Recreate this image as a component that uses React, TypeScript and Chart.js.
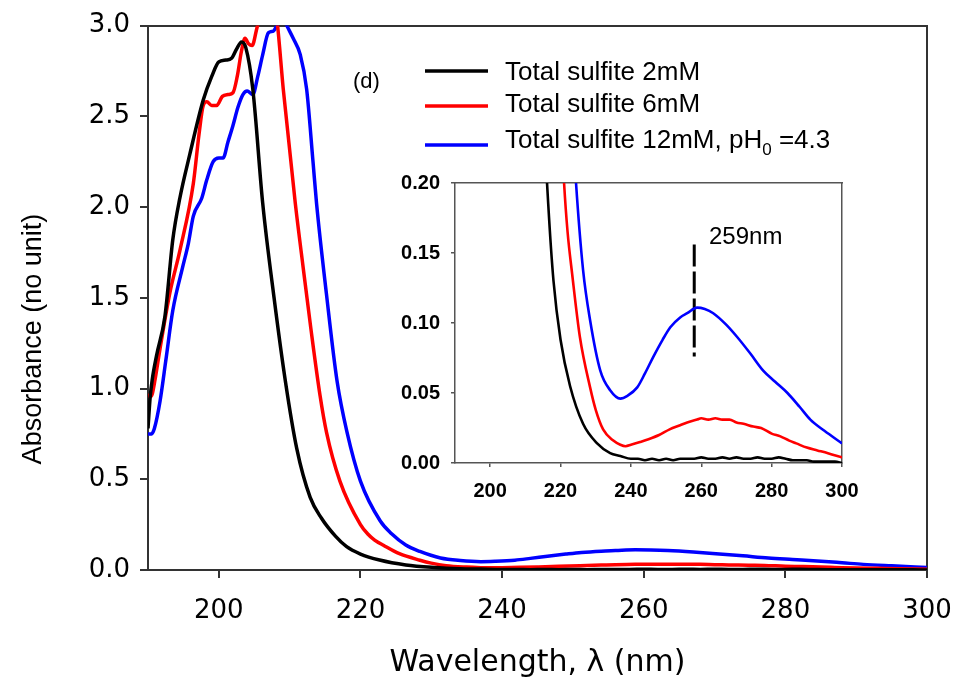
import React, { useEffect, useRef } from 'react';
import { Chart, registerables } from 'chart.js';

Chart.register(...registerables);

// ---------- data ----------
const blackWl = [190, 190.3, 190.6, 191.2, 192.4, 193.5, 194.5, 195.9, 197.8, 199, 200, 201, 201.8, 202.5, 203.2, 203.8, 204.8, 206.2, 207.8, 209.4, 211, 212.9, 214.5, 216.5, 218, 220, 222.7, 226.4, 230.4, 234.1, 237, 240, 242, 244, 246, 248, 250, 252, 254, 256, 258, 260, 262, 264, 266, 268, 270, 272, 274, 276, 278, 280, 282, 284, 286, 288, 290, 292, 294, 296, 298, 300];
const blackAbs = [0.78, 0.95, 1.05, 1.18, 1.40, 1.82, 2.05, 2.29, 2.59, 2.72, 2.80, 2.81, 2.82, 2.87, 2.91, 2.88, 2.65, 2.02, 1.50, 1.04, 0.67, 0.40, 0.285, 0.185, 0.13, 0.088, 0.055, 0.028, 0.014, 0.007, 0.005, 0.003, 0.003, 0.002, 0.003, 0.002, 0.003, 0.002, 0.003, 0.003, 0.003, 0.004, 0.003, 0.003, 0.004, 0.003, 0.004, 0.003, 0.003, 0.004, 0.003, 0.003, 0.004, 0.003, 0.002, 0.002, 0.002, 0.001, 0.001, 0.001, 0.001, 0.0];

const redWl = [190, 190.3, 190.6, 191, 191.7, 193.1, 194.5, 196.4, 197.2, 197.8, 198.3, 199, 199.7, 200.5, 201.3, 202, 202.6, 203.2, 203.7, 204.2, 204.7, 205.4, 206.2, 207, 207.8, 208.3, 209.1, 210.8, 211.9, 213, 214.3, 215.2, 217.1, 220, 221, 222, 223.3, 225.5, 228.4, 230, 232.1, 235, 237, 238.5, 240, 242.6, 245, 248, 251, 254, 256, 258.8, 260, 262, 264, 266, 268, 270, 272, 274.8, 277, 280, 282.5, 285, 287, 290, 293, 296, 300];
const redAbs = [0.97, 0.955, 0.97, 1.05, 1.22, 1.53, 1.76, 2.13, 2.40, 2.56, 2.58, 2.56, 2.56, 2.61, 2.62, 2.63, 2.72, 2.86, 2.93, 2.90, 2.89, 2.99, 3.1, 3.2, 3.15, 3.0, 2.65, 2.02, 1.67, 1.33, 0.96, 0.76, 0.49, 0.25, 0.2, 0.165, 0.135, 0.09, 0.054, 0.038, 0.024, 0.016, 0.013, 0.012, 0.013, 0.015, 0.017, 0.020, 0.024, 0.027, 0.029, 0.031, 0.032, 0.031, 0.032, 0.031, 0.031, 0.029, 0.028, 0.026, 0.025, 0.021, 0.019, 0.016, 0.014, 0.011, 0.009, 0.007, 0.004];

const blueWl = [190, 190.5, 190.9, 191.7, 192.5, 193.5, 194.9, 195.7, 196.4, 197.6, 198.3, 199.2, 200, 200.6, 201.3, 202, 202.7, 203.4, 204, 204.8, 205.5, 206.2, 207, 207.7, 208.2, 209, 209.6, 210.5, 211.5, 212.4, 213.3, 213.8, 215.2, 216.7, 218.1, 220, 222.8, 224.4, 226.4, 228.4, 231.3, 234.1, 237, 239, 241.8, 244, 246.4, 249, 251.2, 254, 256, 258.8, 261, 263.4, 267, 270.2, 274, 277.6, 281, 284.5, 288, 291, 295, 300];
const blueAbs = [0.75, 0.75, 0.78, 0.93, 1.15, 1.43, 1.67, 1.80, 1.95, 2.05, 2.15, 2.25, 2.27, 2.27, 2.36, 2.45, 2.55, 2.62, 2.64, 2.62, 2.72, 2.84, 2.96, 2.97, 3.0, 3.05, 3.0, 2.93, 2.84, 2.65, 2.25, 2.02, 1.52, 1.04, 0.76, 0.49, 0.27, 0.2, 0.138, 0.102, 0.066, 0.052, 0.046, 0.048, 0.054, 0.064, 0.076, 0.088, 0.097, 0.104, 0.107, 0.111, 0.110, 0.107, 0.099, 0.09, 0.078, 0.066, 0.058, 0.05, 0.04, 0.031, 0.023, 0.014];

const seriesLabels = ['Total sulfite 2mM', 'Total sulfite 6mM', 'Total sulfite 12mM, pH_0 =4.3'];
const seriesColors = ['#000000', '#ff0000', '#0000ff'];

const xTicks = [200, 220, 240, 260, 280, 300];
const yTicksMain = [0, 0.5, 1, 1.5, 2, 2.5, 3];
const yTicksInset = [0, 0.05, 0.1, 0.15, 0.2];

const peakWl = [258, 258];
const peakAbs = [0.156, 0.076];
const peakLabel = '259nm';
const panelLabel = '(d)';
const xTitle = 'Wavelength, \u03bb (nm)';
const yTitle = 'Absorbance (no unit)';

// ---------- helpers ----------
const SANS = "'Liberation Sans', Arial, Helvetica, sans-serif";
const WIDE = "'DejaVu Sans', Verdana, sans-serif";
const toXY = (xs: number[], ys: number[]) => xs.map((x, i) => ({ x, y: ys[i] }));
const seriesData = [toXY(blackWl, blackAbs), toXY(redWl, redAbs), toXY(blueWl, blueAbs)];

function drawRich(ctx: CanvasRenderingContext2D, text: string, x: number, y: number, size: number) {
  const parts = text.split(/_(\w)/);
  let cx = x;
  parts.forEach((p, i) => {
    const sub = i % 2 === 1;
    ctx.font = `${sub ? Math.round(size * 0.65) : size}px ${SANS}`;
    ctx.fillText(p, cx, sub ? y + size * 0.28 : y);
    cx += ctx.measureText(p).width;
  });
}

const legendPlugin = {
  id: 'legendPanel',
  afterDraw(chart: any) {
    const ctx: CanvasRenderingContext2D = chart.ctx;
    ctx.save();
    const lineY = [71, 106, 145];
    const textY = [80, 112, 148];
    seriesLabels.forEach((lab, i) => {
      ctx.strokeStyle = seriesColors[i];
      ctx.lineWidth = 3.3;
      ctx.beginPath();
      ctx.moveTo(425, lineY[i]);
      ctx.lineTo(488, lineY[i]);
      ctx.stroke();
      ctx.fillStyle = '#000';
      ctx.textAlign = 'left';
      ctx.textBaseline = 'alphabetic';
      drawRich(ctx, lab, 505, textY[i], 26);
    });
    ctx.font = `22px ${SANS}`;
    ctx.fillText(panelLabel, 353, 88);
    ctx.restore();
  },
};

const peakLabelPlugin = {
  id: 'peakLabel',
  afterDraw(chart: any) {
    const ctx: CanvasRenderingContext2D = chart.ctx;
    ctx.save();
    ctx.fillStyle = '#000';
    ctx.font = `24px ${SANS}`;
    ctx.textAlign = 'left';
    ctx.textBaseline = 'middle';
    ctx.fillText(peakLabel, 329, 77);
    ctx.restore();
  },
};

const fixX = (h: number) => (s: any) => {
  s.height = h;
  s.paddingLeft = 0;
  s.paddingRight = 0;
};

export default function App() {
  const mainRef = useRef<HTMLCanvasElement>(null);
  const insetRef = useRef<HTMLCanvasElement>(null);

  useEffect(() => {
    const mainDatasets = seriesData.map((d, i) => ({
      label: seriesLabels[i].replace('_', ''),
      data: d,
      borderColor: seriesColors[i],
      backgroundColor: seriesColors[i],
      borderWidth: 3.5,
      pointRadius: 0,
      fill: false,
      cubicInterpolationMode: 'monotone' as const,
    }));

    const main = new Chart(mainRef.current!, {
      type: 'line',
      data: { datasets: mainDatasets },
      options: {
        responsive: false,
        animation: false,
        devicePixelRatio: 1,
        layout: { padding: { left: 0, right: 30, top: 20, bottom: 0 } },
        plugins: { legend: { display: false }, tooltip: { enabled: false } },
        scales: {
          x: {
            type: 'linear',
            position: 'bottom',
            min: 190,
            max: 300,
            afterBuildTicks: (s: any) => { s.ticks = xTicks.map((v) => ({ value: v })); },
            afterFit: fixX(123),
            grid: { display: true, drawOnChartArea: false, drawTicks: true, tickLength: 8, color: '#333', lineWidth: 2 },
            border: { display: true, color: '#333', width: 2 },
            ticks: { color: '#000', font: { family: WIDE, size: 26 }, padding: 18, maxRotation: 0, autoSkip: false, callback: (v: any) => String(v) },
            title: { display: true, text: xTitle, color: '#000', font: { family: WIDE, size: 30 }, padding: { top: 0, bottom: 12 } },
          },
          y: {
            type: 'linear',
            position: 'left',
            min: 0,
            max: 3,
            afterBuildTicks: (s: any) => { s.ticks = yTicksMain.map((v) => ({ value: v })); },
            afterFit: (s: any) => { s.width = 148; },
            grid: { display: true, drawOnChartArea: false, drawTicks: true, tickLength: 8, color: '#333', lineWidth: 2 },
            border: { display: true, color: '#333', width: 2 },
            ticks: { color: '#000', font: { family: WIDE, size: 26 }, padding: 10, callback: (v: any) => Number(v).toFixed(1) },
            title: { display: true, text: yTitle + ' '.repeat(11), color: '#000', font: { family: SANS, size: 27 }, padding: { top: 17, bottom: 0 } },
          },
          xTop: {
            type: 'linear',
            position: 'top',
            min: 190,
            max: 300,
            afterFit: fixX(0),
            grid: { display: false, drawTicks: false },
            border: { display: true, color: '#333', width: 2 },
            ticks: { display: false },
          },
          yRight: {
            type: 'linear',
            position: 'right',
            min: 0,
            max: 3,
            afterFit: (s: any) => { s.width = 0; },
            grid: { display: false, drawTicks: false },
            border: { display: true, color: '#333', width: 2 },
            ticks: { display: false },
          },
        },
      },
      plugins: [legendPlugin],
    } as any);

    const insetDatasets: any[] = seriesData.map((d, i) => ({
      label: seriesLabels[i].replace('_', ''),
      data: d,
      borderColor: seriesColors[i],
      backgroundColor: seriesColors[i],
      borderWidth: 2.6,
      pointRadius: 0,
      fill: false,
      cubicInterpolationMode: 'monotone' as const,
    }));
    insetDatasets.push({
      label: peakLabel,
      data: toXY(peakWl, peakAbs),
      borderColor: '#000',
      borderWidth: 3,
      borderDash: [22, 5],
      pointRadius: 0,
      fill: false,
    });

    const inset = new Chart(insetRef.current!, {
      type: 'line',
      data: { datasets: insetDatasets },
      options: {
        responsive: false,
        animation: false,
        devicePixelRatio: 1,
        layout: { padding: { left: 0, right: 18, top: 23, bottom: 0 } },
        plugins: { legend: { display: false }, tooltip: { enabled: false } },
        scales: {
          x: {
            type: 'linear',
            position: 'bottom',
            min: 190,
            max: 300,
            afterBuildTicks: (s: any) => { s.ticks = xTicks.map((v) => ({ value: v })); },
            afterFit: fixX(42),
            grid: { display: true, drawOnChartArea: false, drawTicks: true, tickLength: 4, color: '#555', lineWidth: 1.5 },
            border: { display: true, color: '#555', width: 1.5 },
            ticks: { color: '#000', font: { family: SANS, size: 20, weight: 'bold' }, padding: 12, maxRotation: 0, autoSkip: false, callback: (v: any) => String(v) },
          },
          y: {
            type: 'linear',
            position: 'left',
            min: 0,
            max: 0.2,
            afterBuildTicks: (s: any) => { s.ticks = yTicksInset.map((v) => ({ value: v })); },
            afterFit: (s: any) => { s.width = 75; },
            grid: { display: true, drawOnChartArea: false, drawTicks: true, tickLength: 4, color: '#555', lineWidth: 1.5 },
            border: { display: true, color: '#555', width: 1.5 },
            ticks: { color: '#000', font: { family: SANS, size: 20, weight: 'bold' }, padding: 11, callback: (v: any) => Number(v).toFixed(2) },
          },
          xTop: {
            type: 'linear',
            position: 'top',
            min: 190,
            max: 300,
            afterFit: fixX(0),
            grid: { display: false, drawTicks: false },
            border: { display: true, color: '#555', width: 1.5 },
            ticks: { display: false },
          },
          yRight: {
            type: 'linear',
            position: 'right',
            min: 0,
            max: 0.2,
            afterFit: (s: any) => { s.width = 0; },
            grid: { display: false, drawTicks: false },
            border: { display: true, color: '#555', width: 1.5 },
            ticks: { display: false },
          },
        },
      },
      plugins: [peakLabelPlugin],
    } as any);

    return () => {
      main.destroy();
      inset.destroy();
    };
  }, []);

  return (
    <div style={{ position: 'absolute', left: 0, top: 0, width: 957, height: 693, background: '#fff' }}>
      <canvas ref={mainRef} width={957} height={693} style={{ position: 'absolute', left: 0, top: 0, width: 957, height: 693 }} />
      <canvas ref={insetRef} width={480} height={345} style={{ position: 'absolute', left: 380, top: 160, width: 480, height: 345 }} />
    </div>
  );
}
